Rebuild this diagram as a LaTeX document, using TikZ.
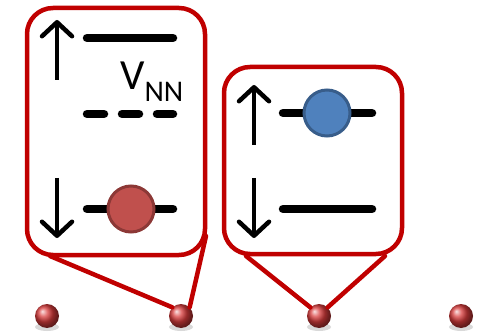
\documentclass[tikz,border=0pt]{standalone}
\usepackage{fontspec}
\setmainfont{Carlito}
\usetikzlibrary{arrows.meta,shadings}
\definecolor{boxred}{HTML}{C00000}
\definecolor{dotred}{HTML}{C0504D}
\definecolor{dotredb}{HTML}{8C3836}
\definecolor{dotblue}{HTML}{4F81BD}
\definecolor{dotblueb}{HTML}{385D8A}
\definecolor{siteball}{HTML}{D83C3C}
\tikzset{
  bubble/.style={draw=boxred, line width=4.5pt, rounded corners=26pt},
  tail/.style={draw=boxred, line width=4.5pt, line cap=round},
  level/.style={line width=8.5pt, line cap=round},
  spin/.style={line width=4.5pt, -{Straight Barb[length=14pt 0, width=30pt 0, line cap=round, line join=round]}},
  site/.style={circle, minimum size=24pt, inner sep=0pt, ball color=siteball, shading=ball},
  reddot/.style={circle, minimum size=46pt, inner sep=0pt, fill=dotred, draw=dotredb, line width=3pt},
  bluedot/.style={circle, minimum size=46pt, inner sep=0pt, fill=dotblue, draw=dotblueb, line width=3pt},
}
\begin{document}
\begin{tikzpicture}[x=1pt,y=-1pt]
\useasboundingbox (0,0) rectangle (478,336);
% shadows of sites
\foreach \x in {47,181,319,461}
  \fill[black, opacity=0.15] (\x,327) ellipse (12 and 4);
% sites
\node[site] (s1) at (47,316) {};
\node[site] (s2) at (181,316) {};
\node[site] (s3) at (319,316) {};
\node[site] (s4) at (461,316) {};
% left bubble
\draw[bubble, fill=white] (27,8) rectangle (205,255);
\coordinate (la) at (50,256);
\coordinate (lb) at (206,236);
\draw[tail] (la) -- (s2.north west);
\draw[tail] (lb) -- (s2.north east);
% right bubble
\draw[bubble, fill=white] (224,67) rectangle (402,254);
\coordinate (ra) at (246,256);
\coordinate (rb) at (385,256);
\draw[tail] (ra) -- (s3.north west);
\draw[tail] (rb) -- (s3.north east);
% left bubble contents
\coordinate (u1a) at (57,80); \coordinate (u1b) at (57,20);
\draw[spin] (u1a) -- (u1b);
\coordinate (d1a) at (57,178); \coordinate (d1b) at (57,238);
\draw[spin] (d1a) -- (d1b);
\coordinate (t1a) at (87,38); \coordinate (t1b) at (173,38);
\draw[level] (t1a) -- (t1b);
\coordinate (m1a) at (87,114); \coordinate (m1b) at (173,114);
\draw[level, dash pattern=on 17pt off 18pt] (m1a) -- (m1b);
\coordinate (b1a) at (87,209); \coordinate (b1b) at (173,209);
\draw[level] (b1a) -- (b1b);
\node[reddot] (rd) at (131,209) {};
\node[anchor=base west, inner sep=0pt, font=\fontsize{43}{43}\selectfont] (vnn) at (120,90) {V\raisebox{-12pt}{\fontsize{30}{30}\selectfont NN}};
% right bubble contents
\coordinate (u2a) at (254,145); \coordinate (u2b) at (254,85);
\draw[spin] (u2a) -- (u2b);
\coordinate (d2a) at (254,178); \coordinate (d2b) at (254,238);
\draw[spin] (d2a) -- (d2b);
\coordinate (t2a) at (283,113); \coordinate (t2b) at (372,113);
\draw[level] (t2a) -- (t2b);
\node[bluedot] (bd) at (327,113) {};
\coordinate (b2a) at (283,209); \coordinate (b2b) at (372,209);
\draw[level] (b2a) -- (b2b);
\end{tikzpicture}
\end{document}
